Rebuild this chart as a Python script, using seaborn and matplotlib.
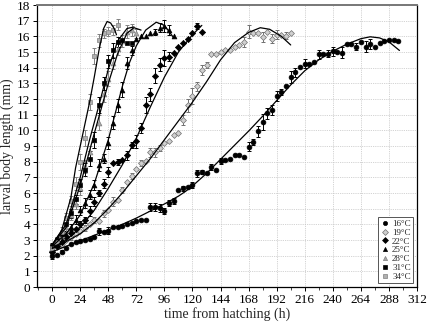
import numpy as np
import pandas as pd
import matplotlib
matplotlib.use("Agg")
import matplotlib.pyplot as plt
import seaborn as sns
from matplotlib.ticker import MultipleLocator

sns.set_style("ticks")
plt.rcParams['font.family'] = ['Liberation Serif', 'DejaVu Serif']

# ---------------- data ----------------
labels = ['16°C', '19°C', '22°C', '25°C', '28°C', '31°C', '34°C']

t16 = list(range(0, 297, 4))
y16 = [1.95, 2.05, 2.25, 2.5, 2.75, 2.85, 2.95, 3.0, 3.05, 3.2, 3.55, 3.5, 3.6, 3.8, 3.8,
       3.9, 4.0, 4.1, 4.2, 4.25, 4.3, 5.1, 5.1, 5.05, 4.85, 5.35, 5.5, 6.2, 6.3, 6.4,
       6.5, 7.25, 7.35, 7.25, 7.65, 7.5, 8.05, 8.1, 8.15, 8.4, 8.45, 8.3, 8.95, 9.25, 9.95,
       10.55, 11.1, 11.3, 12.2, 12.45, 12.8, 13.4, 13.7, 14.05, 14.25, 14.25, 14.35, 14.85, 14.9, 14.9,
       15.05, 15.0, 14.95, 15.5, 15.5, 15.35, 15.65, 15.35, 15.5, 15.35, 15.6, 15.7, 15.75, 15.75, 15.7]
e16 = [0.15, 0, 0.1, 0, 0, 0, 0, 0, 0, 0, 0.2, 0, 0.2, 0, 0,
       0, 0, 0, 0, 0, 0, 0.25, 0.25, 0.25, 0.2, 0.2, 0.2, 0, 0.15, 0,
       0.2, 0.2, 0.15, 0, 0.2, 0, 0.2, 0, 0, 0, 0, 0, 0.3, 0.2, 0.35,
       0.5, 0.35, 0.3, 0.3, 0.2, 0, 0.4, 0.3, 0, 0.3, 0, 0, 0.3, 0, 0.2,
       0.3, 0, 0.35, 0, 0, 0.2, 0, 0.35, 0.3, 0, 0, 0, 0, 0, 0]

t19 = list(range(0, 205, 4))
y19 = [2.3, 2.55, 2.75, 3.0, 3.2, 3.4, 3.55, 3.75, 4.0, 4.3, 4.2, 4.7, 4.9, 5.45, 5.55,
       6.2, 6.7, 7.1, 7.55, 7.9, 8.05, 8.6, 8.6, 8.85, 9.2, 9.35, 9.7, 9.8, 10.65, 11.6,
       12.2, 12.8, 13.85, 14.15, 14.85, 14.9, 15.0, 15.1, 15.1, 15.3, 15.45, 15.65, 16.3, 16.2, 16.2,
       15.95, 16.25, 15.85, 16.1, 16.1, 16.05, 16.2]
e19 = [0.2, 0, 0.2, 0, 0.2, 0, 0, 0.2, 0, 0.2, 0, 0.2, 0, 0.3, 0,
       0.2, 0, 0.2, 0, 0.2, 0, 0.3, 0.3, 0.2, 0, 0, 0, 0, 0.3, 0.4,
       0.5, 0.3, 0.3, 0.2, 0, 0, 0, 0, 0, 0, 0, 0.3, 0.4, 0, 0,
       0.3, 0, 0.3, 0.3, 0, 0.2, 0]

t22 = list(range(0, 129, 4))
y22 = [2.25, 2.6, 2.9, 3.2, 3.45, 3.7, 4.0, 4.3, 4.85, 5.45, 6.0, 6.6, 7.35, 7.9, 8.0,
       8.1, 8.4, 9.05, 9.3, 10.15, 11.6, 12.3, 13.5, 14.2, 14.6, 14.7, 14.95, 15.3, 15.55, 15.85,
       16.2, 16.65, 16.25]
e22 = [0.2, 0, 0.2, 0, 0.2, 0, 0.2, 0.2, 0.3, 0.3, 0.2, 0.3, 0.3, 0, 0.2,
       0, 0.3, 0.2, 0.4, 0.3, 0.5, 0.4, 0.5, 0.4, 0.5, 0.3, 0, 0, 0, 0,
       0, 0.2, 0]

t25 = list(range(0, 105, 4))
y25 = [2.4, 2.7, 3.0, 3.4, 3.8, 4.3, 4.9, 5.35, 5.9, 6.5, 7.8, 8.2, 9.2, 10.5, 11.6,
       12.6, 14.3, 15.1, 15.8, 16.0, 16.05, 16.2, 16.3, 16.55, 16.65, 16.4, 16.0]
e25 = [0.2, 0, 0.2, 0.2, 0.2, 0.3, 0.3, 0.3, 0.3, 0.3, 0.4, 0.3, 0.4, 0.4, 0.4,
       0.5, 0.4, 0.3, 0, 0, 0, 0, 0.2, 0.3, 0.4, 0.3, 0]

t28 = list(range(0, 73, 4))
y28 = [2.5, 2.9, 3.3, 3.8, 4.6, 5.3, 6.3, 7.7, 8.6, 9.4, 10.5, 12.3, 13.3, 14.3, 15.2,
       15.7, 16.3, 16.4, 16.2]
e28 = [0.2, 0.2, 0.2, 0.3, 0.3, 0.3, 0.4, 0.4, 0.4, 0.5, 0.5, 0.5, 0.5, 0.4, 0.4,
       0.4, 0.4, 0.4, 0.3]

t31 = list(range(0, 69, 4))
y31 = [2.6, 3.0, 3.4, 4.0, 4.7, 5.6, 6.5, 7.5, 8.2, 9.4, 11.6, 13.0, 14.4, 15.1, 15.65,
       15.75, 15.55, 15.55]
e31 = [0.2, 0.2, 0.2, 0.3, 0.3, 0.3, 0.4, 0.4, 0.5, 0.5, 0.5, 0.4, 0.4, 0.5, 0.3,
       0, 0, 0]

t34 = list(range(0, 57, 4))
y34 = [2.5, 2.9, 3.5, 4.4, 5.5, 6.6, 8.0, 9.5, 11.8, 14.75, 15.75, 16.2, 16.3, 16.4, 16.75]
e34 = [0.2, 0.2, 0.3, 0.3, 0.3, 0.4, 0.5, 0.5, 0.5, 0.5, 0.4, 0.3, 0.3, 0.3, 0.35]

# fitted curves
ct16 = [0, 12, 24, 36, 48, 60, 72, 84, 96, 108, 114, 120, 126, 132, 138, 144, 156, 168, 180,
        192, 204, 216, 228, 240, 252, 264, 272, 280, 288, 297]
cy16 = [2.25, 2.6, 2.95, 3.3, 3.65, 4.0, 4.4, 4.85, 5.3, 5.8, 6.1, 6.45, 6.85, 7.25, 7.7,
        8.15, 9.05, 9.95, 10.9, 11.9, 12.9, 13.8, 14.5, 15.05, 15.5, 15.85, 15.97, 15.9,
        15.65, 15.1]
ct19 = [0, 12, 24, 36, 48, 60, 72, 84, 96, 108, 120, 132, 144, 156, 168, 178, 186, 196, 204]
cy19 = [2.45, 2.9, 3.4, 4.1, 5.0, 6.0, 7.1, 8.2, 9.4, 10.6, 11.8, 13.1, 14.5, 15.6, 16.25,
        16.55, 16.45, 16.0, 15.45]
ct22 = [0, 12, 24, 36, 48, 60, 72, 84, 96, 108, 120, 128]
cy22 = [2.5, 3.0, 3.8, 4.9, 6.3, 7.8, 9.5, 11.5, 13.4, 15.0, 16.1, 16.7]
ct25 = [0, 12, 24, 36, 48, 60, 66, 72, 80, 89, 96, 104]
cy25 = [2.6, 3.4, 4.6, 6.6, 9.4, 12.8, 14.3, 15.4, 16.4, 16.9, 16.7, 15.9]
ct28 = [0, 12, 24, 36, 48, 56, 64, 70, 76]
cy28 = [2.7, 3.8, 6.5, 9.8, 13.0, 14.9, 16.2, 16.55, 16.4]
ct31 = [0, 12, 24, 32, 40, 48, 56, 64, 70]
cy31 = [2.7, 4.0, 7.0, 9.4, 11.6, 13.9, 15.7, 16.5, 16.6]
ct34 = [0, 8, 16, 20, 24, 28, 32, 36, 40, 44, 47, 50, 53, 55]
cy34 = [2.7, 3.6, 5.7, 7.6, 9.0, 10.4, 11.8, 13.4, 15.1, 16.5, 16.95, 16.85, 16.5, 16.1]

# ---------------- figure ----------------
fig = plt.figure(figsize=(4.32, 3.27), dpi=100)
ax = fig.add_axes([0.0856, 0.1223, 0.8796, 0.8624])

series = [
    (t16, y16, e16, ct16, cy16, 'o', 'black', 'black', 12),
    (t19, y19, e19, ct19, cy19, 'D', '#d0d0d0', '#707070', 9),
    (t22, y22, e22, ct22, cy22, 'D', 'black', 'black', 10),
    (t25, y25, e25, ct25, cy25, '^', 'black', 'black', 12),
    (t28, y28, e28, ct28, cy28, '^', '#a8a8a8', '#808080', 12),
    (t31, y31, e31, ct31, cy31, 's', 'black', 'black', 10),
    (t34, y34, e34, ct34, cy34, 's', '#b0b0b0', '#808080', 10),
]

handles = []
for lab, (t, y, e, ct, cy, mk, fc, ec, sz) in zip(labels, series):
    df = pd.DataFrame({'t': t, 'y': y, 'e': e})
    dfe = df[df['e'] > 0]
    ax.errorbar(dfe['t'], dfe['y'], yerr=dfe['e'], fmt='none', ecolor=ec,
                elinewidth=0.7, capsize=1.6, capthick=0.7, zorder=2)
    sns.scatterplot(data=df, x='t', y='y', marker=mk, color=fc, edgecolor=ec,
                    linewidth=0.5, s=sz, ax=ax, zorder=3, label=lab, legend=False)
    dfc = pd.DataFrame({'t': ct, 'y': cy})
    sns.lineplot(data=dfc, x='t', y='y', color='black', linewidth=0.9, ax=ax,
                 sort=False, estimator=None, zorder=4, legend=False)
    handles.append(plt.Line2D([], [], linestyle='none', marker=mk, markersize=3.0,
                              markerfacecolor=fc, markeredgecolor=ec, markeredgewidth=0.5))

ax.set_xlim(-13, 312)
ax.set_ylim(0, 18)
ax.xaxis.set_major_locator(MultipleLocator(24))
ax.xaxis.set_minor_locator(MultipleLocator(12))
ax.yaxis.set_major_locator(MultipleLocator(1))
ax.grid(True, which='major', color='#c4c4c4', linestyle=(0, (1, 1.2)), linewidth=0.6)
ax.set_axisbelow(True)
ax.tick_params(axis='both', which='major', labelsize=9.5, length=3, width=0.7,
               direction='out', pad=2, colors='black')
ax.tick_params(axis='x', which='minor', length=2, width=0.6, direction='out')
for sp in ax.spines.values():
    sp.set_visible(True)
    sp.set_linewidth(0.9)
    sp.set_color('black')
ax.spines['top'].set_color('#777777')
ax.spines['top'].set_linewidth(1.4)

ax.set_xlabel('time from hatching (h)', fontsize=10, labelpad=1)
ax.set_ylabel('larval body length (mm)', fontsize=10, labelpad=2)

leg = ax.legend(handles, labels, loc='lower right', fontsize=6.5, frameon=True,
                fancybox=False, edgecolor='#555555', framealpha=1,
                handlelength=0.8, handletextpad=0.4, labelspacing=0.05,
                borderpad=0.3, borderaxespad=0.4)
leg.get_frame().set_linewidth(0.7)

fig.savefig('out.png', dpi=100)
